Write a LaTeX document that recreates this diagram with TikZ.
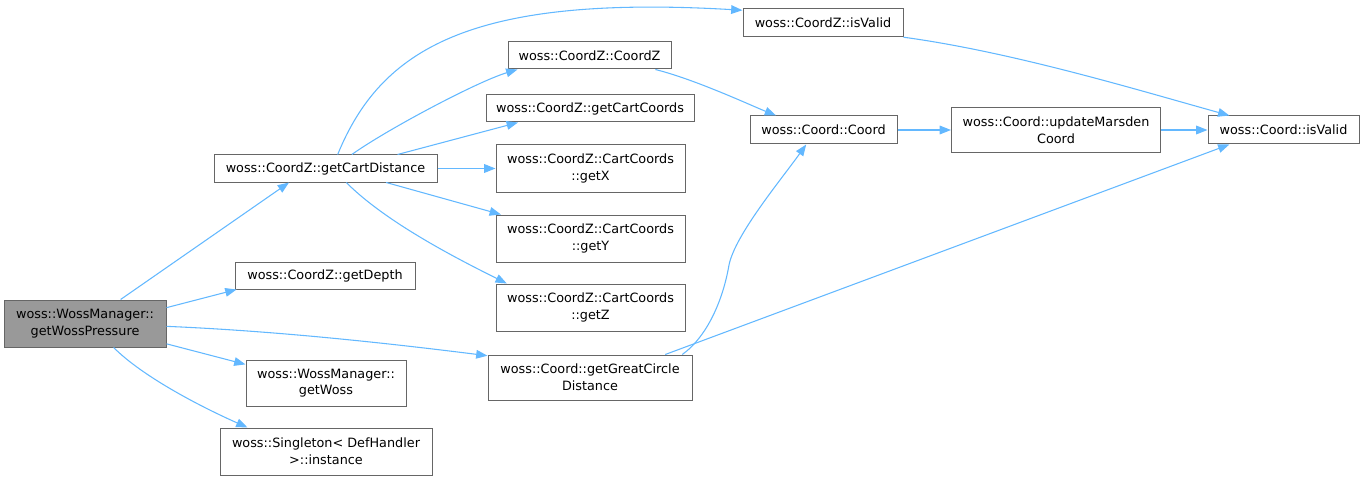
\documentclass[tikz,border=0pt]{standalone}
\usepackage{fontspec}
\setmainfont{DejaVu Sans}
\usetikzlibrary{arrows.meta}
\definecolor{edgeblue}{HTML}{63B8FF}
\definecolor{boxgray}{HTML}{666666}
\definecolor{rootfill}{HTML}{999999}

\begin{document}
\begin{tikzpicture}[x=0.75pt,y=-0.75pt,
  fn/.style={draw=boxgray, line width=0.75pt, inner sep=0pt, align=center,
    font=\fontsize{9.6}{12.5}\selectfont},
  call/.style={draw=edgeblue, line width=0.8pt,
    -{Triangle[length=8.5pt,width=6.5pt]}}]
  \useasboundingbox (0,0) rectangle (1366,481);

  % caller
  \node[fn, fill=rootfill, minimum width=121.5pt, minimum height=35.25pt] (pressure) at (85,323.5) {woss::WossManager::\\getWossPressure};

  % first level
  \node[fn, minimum width=167.25pt, minimum height=20.25pt] (cartDist) at (325.5,168.5) {woss::CoordZ::getCartDistance};
  \node[fn, minimum width=135pt, minimum height=20.25pt] (depth) at (325,275.5) {woss::CoordZ::getDepth};
  \node[fn, minimum width=120pt, minimum height=34.5pt] (getWoss) at (326,383) {woss::WossManager::\\getWoss};
  \node[fn, minimum width=159pt, minimum height=35.25pt] (instance) at (326,451.5) {woss::Singleton< DefHandler\\>::instance};

  % second level
  \node[fn, minimum width=122.25pt, minimum height=20.25pt] (coordZ) at (589.5,55.5) {woss::CoordZ::CoordZ};
  \node[fn, minimum width=156pt, minimum height=20.25pt] (cartCoords) at (590,108.5) {woss::CoordZ::getCartCoords};
  \node[fn, minimum width=141.75pt, minimum height=35.25pt] (getX) at (590.5,168.5) {woss::CoordZ::CartCoords\\::getX};
  \node[fn, minimum width=141.75pt, minimum height=35.25pt] (getY) at (590.5,238.5) {woss::CoordZ::CartCoords\\::getY};
  \node[fn, minimum width=141.75pt, minimum height=35.25pt] (getZ) at (590.5,307.5) {woss::CoordZ::CartCoords\\::getZ};
  \node[fn, minimum width=153pt, minimum height=33.75pt] (greatCircle) at (590,377.5) {woss::Coord::getGreatCircle\\Distance};

  % third level
  \node[fn, minimum width=120pt, minimum height=21pt] (zValid) at (823,23) {woss::CoordZ::isValid};
  \node[fn, minimum width=110.25pt, minimum height=21pt] (coord) at (823.5,130) {woss::Coord::Coord};
  \node[fn, minimum width=156.75pt, minimum height=33.75pt] (marsden) at (1056,130) {woss::Coord::updateMarsden\\Coord};
  \node[fn, minimum width=113.25pt, minimum height=21pt] (cValid) at (1283.5,130) {woss::Coord::isValid};

  \draw[call] (pressure.34) -- (cartDist.201);
  \draw[call] (pressure.11.5) -- (depth.189.6);
  \draw[call] (pressure.-2.5) .. controls +(120,5) and +(-80,-10) .. (greatCircle.168.6);
  \draw[call] (pressure.-14.9) -- (getWoss.167.3);
  \draw[call] (pressure.-40) .. controls +(30,30) and +(-45,-20) .. (instance.163.8);

  \draw[call] (cartDist.49.6) .. controls +(43,-105) and +(-273,-16) .. (zValid.171.5);
  \draw[call] (cartDist.28.9) .. controls +(35,-25) and +(-40,12) .. (coordZ.191);
  \draw[call] (cartDist.11.8) -- (cartCoords.191.4);
  \draw[call] (cartDist.east) -- (getX.west);
  \draw[call] (cartDist.-13.9) -- (getY.165.4);
  \draw[call] (cartDist.-34.7) .. controls +(40,40) and +(-50,-25) .. (getZ.164.6);

  \draw[call] (coordZ.-12.2) .. controls +(40,10) and +(-25,-10) .. (coord.163.2);
  \draw[call] (zValid.-10.3) .. controls +(110,15) and +(-90,-25) .. (cValid.165.8);
  \draw[call] (coord.east) -- (marsden.west);
  \draw[call] (marsden.east) -- (cValid.west);
  \draw[call] (greatCircle.14.2) .. controls +(25,-18) and +(-6,35) .. (729,265)
    .. controls +(6,-30) and +(-25,35) .. (coord.220.3);
  \draw[call] (greatCircle.17.8) -- (cValid.195.5);
\end{tikzpicture}
\end{document}
